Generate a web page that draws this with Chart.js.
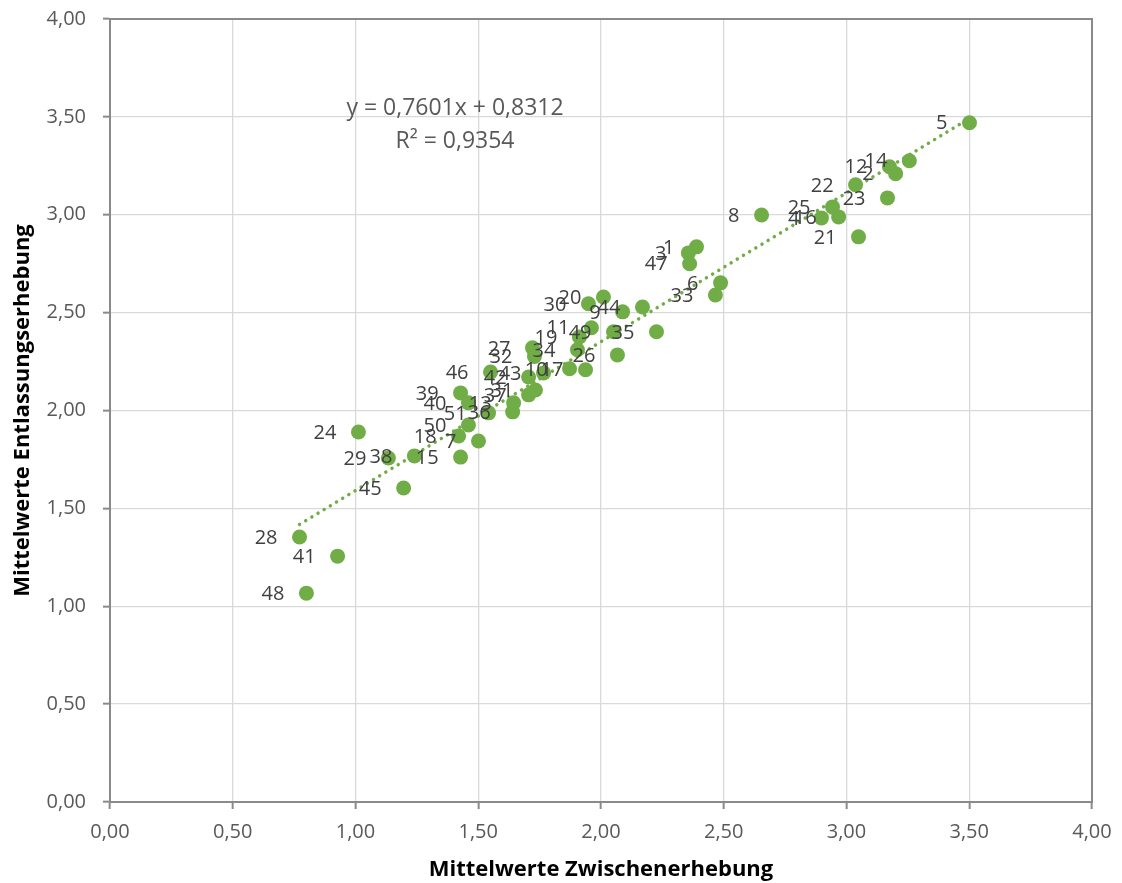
<!DOCTYPE html>
<html lang="de">
<head>
<meta charset="utf-8">
<title>Mittelwerte Zwischen- und Entlassungserhebung</title>
<script src="https://cdn.jsdelivr.net/npm/chart.js@4.4.1/dist/chart.umd.min.js"></script>
<style>
  body { margin: 0; background: #fff; }
  canvas { display: block; }
</style>
</head>
<body>
<canvas id="chartMittelwerte" width="1122" height="883"></canvas>
<script>
// -----------------------DATEN---------------------
const nummern = [1, 2, 3, 4, 5, 6, 7, 8, 9, 10, 11, 12, 13, 14, 15, 16, 17, 18, 19, 20,
    21, 22, 23, 24, 25, 26, 27, 28, 29, 30, 31, 32, 33, 34, 35, 36, 37, 38, 39, 40,
    41, 42, 43, 44, 45, 46, 47, 48, 49, 50, 51];

const zwischen = [2.389, 3.200, 2.356, 2.898, 3.501, 2.487, 1.501, 2.654, 2.088, 1.872,
    1.961, 3.175, 1.644, 3.256, 1.428, 2.968, 1.937, 1.420, 1.912, 2.010,
    3.049, 3.037, 3.167, 1.012, 2.943, 2.067, 1.721, 0.772, 1.134, 1.949,
    1.733, 1.729, 2.466, 1.904, 2.226, 1.640, 1.705, 1.240, 1.428, 1.460,
    0.927, 1.705, 1.766, 2.169, 1.196, 1.550, 2.361, 0.800, 2.051, 1.460,
    1.542];

const entlassung = [2.836, 3.210, 2.805, 2.984, 3.470, 2.652, 1.844, 2.999, 2.504, 2.213,
    2.423, 3.245, 2.039, 3.276, 1.762, 2.989, 2.208, 1.870, 2.376, 2.580,
    2.887, 3.153, 3.086, 1.890, 3.040, 2.284, 2.320, 1.354, 1.757, 2.545,
    2.105, 2.276, 2.590, 2.310, 2.402, 1.993, 2.080, 1.768, 2.090, 2.039,
    1.256, 2.171, 2.192, 2.529, 1.604, 2.197, 2.750, 1.067, 2.402, 1.926,
    1.988];

const achsenTicks = ['0,00', '0,50', '1,00', '1,50', '2,00', '2,50', '3,00', '3,50', '4,00'];

// lineare Trendlinie
const steigung = 0.7601;
const achsenabschnitt = 0.8312;
const bestimmtheit = 0.9354;

const gruen = '#70AD47';

function komma(v, stellen){
    return v.toFixed(stellen).replace('.', ',');
}

const xMin = Math.min(...zwischen);
const xMax = Math.max(...zwischen);
const trend = [
    {x: xMin, y: steigung * xMin + achsenabschnitt},
    {x: xMax, y: steigung * xMax + achsenabschnitt}
];

const punkte = zwischen.map((x, i) => ({x: x, y: entlassung[i]}));

// Rahmen, Nummern links neben den Punkten + Formel der Trendlinie
const beschriftung = {
    id: 'beschriftung',
    beforeDatasetsDraw(chart){
        const {ctx, chartArea} = chart;
        ctx.save();
        ctx.strokeStyle = '#8a8a8a';
        ctx.lineWidth = 2;
        ctx.strokeRect(chartArea.left, chartArea.top, chartArea.right - chartArea.left, chartArea.bottom - chartArea.top);
        ctx.restore();
    },
    afterDatasetsDraw(chart){
        const ctx = chart.ctx;
        const meta = chart.getDatasetMeta(0);
        const area = chart.chartArea;
        ctx.save();
        ctx.font = '20px "Open Sans"';
        ctx.fillStyle = '#404040';
        ctx.textAlign = 'right';
        ctx.textBaseline = 'middle';
        meta.data.forEach((pt, i) => {
            ctx.fillText(String(nummern[i]), pt.x - 22, pt.y + 1);
        });

        ctx.font = '23px "Open Sans"';
        ctx.fillStyle = '#595959';
        ctx.textAlign = 'center';
        ctx.fillText('y = ' + komma(steigung, 4) + 'x + ' + komma(achsenabschnitt, 4), area.left + 345, area.top + 89);
        ctx.fillText('R² = ' + komma(bestimmtheit, 4), area.left + 345, area.top + 122);
        ctx.restore();
    }
};

const ctx = document.getElementById('chartMittelwerte');

new Chart(ctx, {
    type: 'scatter',
    data: {
        datasets: [{
            label: 'Mittelwerte',
            data: punkte,
            backgroundColor: gruen,
            borderWidth: 0,
            pointRadius: 7.5,
            pointHoverRadius: 7.5
        }, {
            label: 'Linear',
            type: 'line',
            data: trend,
            borderColor: gruen,
            borderWidth: 3.5,
            borderDash: [0.01, 7.2],
            borderCapStyle: 'round',
            pointRadius: 0,
            fill: false
        }]
    },
    options: {
        responsive: false,
        animation: false,
        devicePixelRatio: 1,
        layout: {
            padding: {top: 19, right: 30, left: 0, bottom: 0}
        },
        plugins: {
            legend: {display: false},
            tooltip: {enabled: false}
        },
        scales: {
            x: {
                type: 'linear',
                min: 0,
                max: 4,
                afterFit: scale => {
                    scale.height = 81;
                    scale.paddingLeft = 0;
                    scale.paddingRight = 0;
                },
                ticks: {
                    stepSize: 0.5,
                    padding: 11,
                    color: '#595959',
                    font: {family: 'Open Sans', size: 20},
                    callback: (v, i) => achsenTicks[i]
                },
                grid: {
                    color: '#d9d9d9',
                    lineWidth: 1.3,
                    tickColor: '#8a8a8a',
                    tickWidth: 2,
                    tickLength: 7
                },
                border: {color: '#8a8a8a', width: 2},
                title: {
                    display: true,
                    text: 'Mittelwerte Zwischenerhebung',
                    color: '#000',
                    font: {family: 'Open Sans', size: 22, weight: 'bold'},
                    padding: {top: 0, bottom: 0}
                }
            },
            y: {
                type: 'linear',
                min: 0,
                max: 4,
                afterFit: scale => {
                    scale.width = 110;
                    scale.paddingTop = 0;
                    scale.paddingBottom = 0;
                },
                ticks: {
                    stepSize: 0.5,
                    padding: 17,
                    color: '#595959',
                    font: {family: 'Open Sans', size: 20},
                    callback: (v, i) => achsenTicks[i]
                },
                grid: {
                    color: '#d9d9d9',
                    lineWidth: 1.3,
                    tickColor: '#8a8a8a',
                    tickWidth: 2,
                    tickLength: 7
                },
                border: {color: '#8a8a8a', width: 2},
                title: {
                    display: true,
                    text: 'Mittelwerte Entlassungserhebung',
                    color: '#000',
                    font: {family: 'Open Sans', size: 22, weight: 'bold'},
                    padding: {top: 10, bottom: 0}
                }
            }
        }
    },
    plugins: [beschriftung]
});
</script>
</body>
</html>
